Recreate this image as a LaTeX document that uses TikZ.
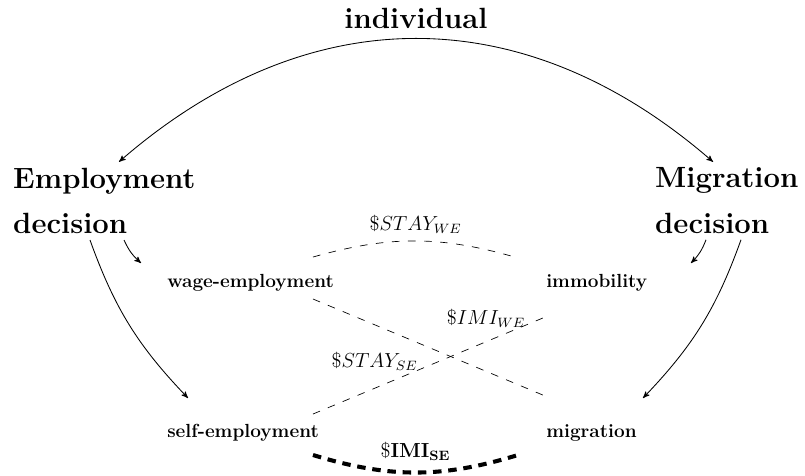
\documentclass[tikz,border=0pt]{standalone}
\usetikzlibrary{positioning,arrows}

\begin{document}
\begin{tikzpicture}[
% Node styles
		person/.style={font=\LARGE\bfseries},
		decision/.style={font=\LARGE\bfseries
							    , align=left
							    , anchor=north west},
		option/.style={font=\fontsize{11.2}{13}\selectfont\bfseries
							    , anchor=west},
% Edge styles
		flow/.style={->, line width=0.5pt},
		cost/.style={dash pattern=on 4.5pt off 5pt},
		bigcost/.style={line width=2.4pt
							    , dash pattern=on 5pt off 4pt},
		price/.style={font=\large},
		>=stealth'
	]
	\useasboundingbox (0,0) rectangle (16.7,-9.854);
%% Draw nodes
	\node [person] (ind) at (8.630,-0.373) {individual};
	\node [decision] (emp) at (0.150,-3.357) {Employment\\[5pt]decision};
	\node [decision] (mig) at (13.468,-3.357) {Migration\\[5pt]decision};
	\node [option] (wage) at (3.346,-5.871) {wage-employment};
	\node [option] (immo) at (11.209,-5.871) {immobility};
	\node [option] (self) at (3.346,-8.983) {self-employment};
	\node [option] (move) at (11.209,-8.983) {migration};
%% Draw arrows
	\draw [<->, line width=0.5pt] ([xshift=2.319cm]emp.north west) to [out=41,in=139,looseness=1.08] ([xshift=1.324cm]mig.north west);
	\draw [flow] ([xshift=2.423cm]emp.south west) to [bend right=12] ([xshift=-0.421cm,yshift=0.415cm]wage.west);
	\draw [flow] ([xshift=1.717cm]emp.south west) to [bend right=12] ([xshift=0.554cm,yshift=0.726cm]self.west);
	\draw [flow] ([xshift=1.178cm]mig.south west) to [bend left=12] ([xshift=3.126cm,yshift=0.415cm]immo.west);
	\draw [flow] ([xshift=1.904cm]mig.south west) to [bend left=12] ([xshift=2.131cm,yshift=0.726cm]move.west);
%% Draw costs
	\draw [cost] ([xshift=3.147cm,yshift=0.539cm]wage.west) to [bend left=16]
		node [price, yshift=9.5pt] {\$$STAY_{WE}$} ([xshift=-0.463cm,yshift=0.519cm]immo.west);
	\draw [cost] ([xshift=3.147cm,yshift=-0.332cm]wage.west) --
		node [price, pos=.73, yshift=31pt] {\$$IMI_{WE}$} ([xshift=0.201cm,yshift=0.726cm]move.west);
	\draw [cost] ([xshift=3.147cm,yshift=0.394cm]self.west) --
		node [price, pos=.26, yshift=16pt] {\$$STAY_{SE}$} ([xshift=0.201cm,yshift=-0.664cm]immo.west);
	\draw [bigcost] ([xshift=3.147cm,yshift=-0.456cm]self.west) to [bend right=17]
		node [price, yshift=12.4pt] {\$$\mathbf{IMI_{SE}}$} ([xshift=-0.463cm,yshift=-0.456cm]move.west);
\end{tikzpicture}
\end{document}
